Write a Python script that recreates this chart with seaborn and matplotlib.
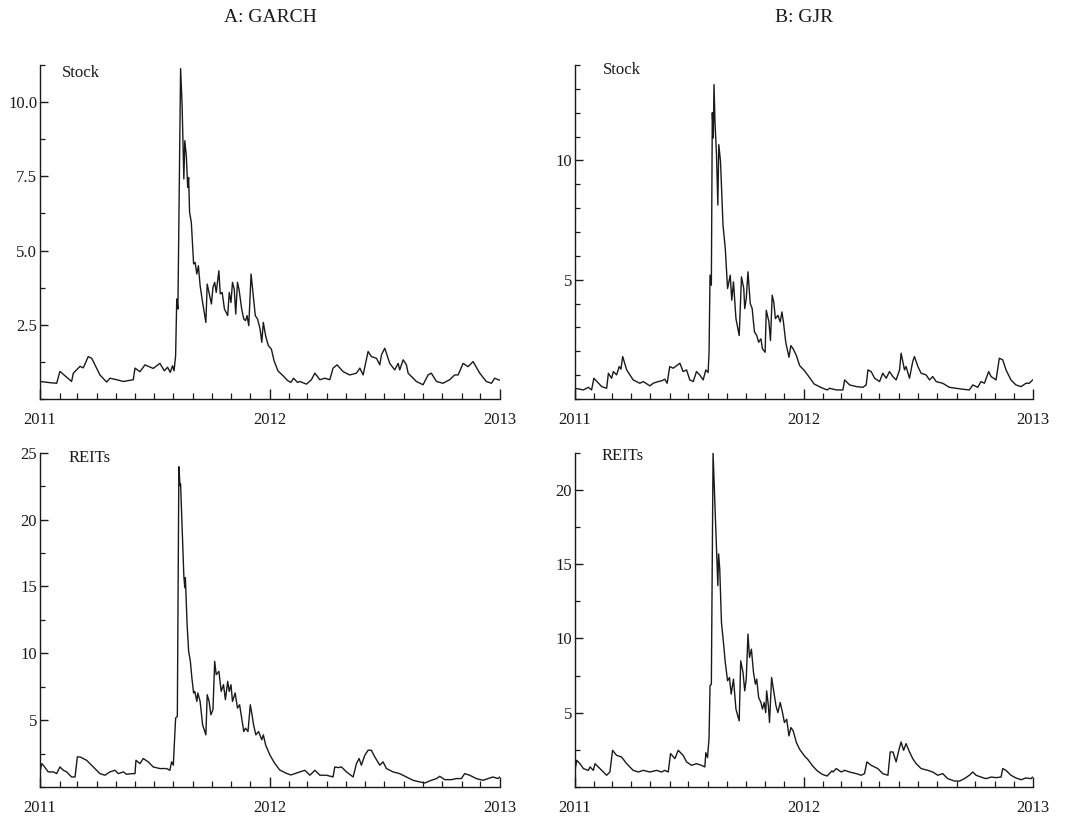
import numpy as np
import pandas as pd
import matplotlib
matplotlib.use("Agg")
import matplotlib.pyplot as plt
import matplotlib.dates as mdates
from matplotlib.ticker import FixedLocator, MultipleLocator
import seaborn as sns

# ---------------- data (time in months since 2011-01-01) -------------
panel_titles = ["A: GARCH", "B: GJR"]
series_names = ["Stock", "REITs"]
year_labels = ["2011", "2012", "2013"]

stock_garch_t = [0.00, 0.52, 0.87, 1.04, 1.65, 1.74, 2.09, 2.26, 2.52, 2.70, 3.13, 3.48, 3.65, 4.00,
                 4.35, 4.87, 4.96, 5.22, 5.48, 5.91, 6.26, 6.49, 6.66, 6.80, 6.92, 7.00, 7.08, 7.14,
                 7.20, 7.34, 7.42, 7.51, 7.56, 7.64, 7.71, 7.76, 7.81, 7.90, 8.02, 8.10, 8.19, 8.27,
                 8.36, 8.49, 8.66, 8.73, 8.86, 8.95, 9.03, 9.12, 9.20, 9.34, 9.41, 9.51, 9.63, 9.80,
                 9.88, 9.97, 10.05, 10.14, 10.22, 10.31, 10.39, 10.53, 10.64, 10.73, 10.81, 10.90,
                 11.02, 11.10, 11.24, 11.36, 11.49, 11.58, 11.66, 11.78, 11.92, 12.08, 12.22, 12.42,
                 12.68, 12.93, 13.10, 13.24, 13.44, 13.57, 13.91, 14.17, 14.35, 14.61, 14.87, 15.13,
                 15.30, 15.51, 15.83, 16.17, 16.52, 16.70, 16.87, 17.13, 17.30, 17.57, 17.74, 17.83,
                 18.00, 18.26, 18.52, 18.70, 18.78, 18.96, 19.13, 19.22, 19.65, 20.00, 20.26, 20.43,
                 20.70, 21.04, 21.39, 21.65, 21.83, 22.09, 22.35, 22.61, 22.96, 23.30, 23.57, 23.74,
                 24.00]
stock_garch_v = [0.59, 0.55, 0.53, 0.93, 0.59, 0.87, 1.10, 1.05, 1.43, 1.37, 0.81, 0.57, 0.70, 0.65,
                 0.59, 0.65, 1.04, 0.92, 1.15, 1.03, 1.20, 0.95, 1.07, 0.90, 1.12, 0.95, 1.46, 3.37,
                 3.03, 11.13, 9.88, 7.41, 8.70, 8.19, 7.13, 7.46, 6.29, 5.95, 4.55, 4.60, 4.21, 4.49,
                 3.82, 3.25, 2.58, 3.87, 3.48, 3.20, 3.76, 3.93, 3.59, 4.32, 3.54, 3.59, 3.03, 2.81,
                 3.59, 3.25, 3.93, 3.70, 2.86, 3.93, 3.70, 3.03, 2.69, 2.64, 2.81, 2.47,
                 4.21, 3.70, 2.81, 2.69, 2.36, 1.91, 2.58, 2.13, 1.80, 1.68, 1.29, 0.95,
                 0.79, 0.62, 0.56, 0.70, 0.56, 0.59, 0.50, 0.65, 0.87, 0.65, 0.70, 0.65,
                 1.04, 1.15, 0.92, 0.81, 0.87, 1.04, 0.81, 1.60, 1.43, 1.37, 1.15, 1.49,
                 1.71, 1.20, 0.98, 1.20, 0.98, 1.32, 1.15, 0.87, 0.59, 0.48, 0.81, 0.87,
                 0.59, 0.53, 0.65, 0.81, 0.81, 1.20, 1.09, 1.26, 0.87, 0.59, 0.53, 0.70,
                 0.63]

stock_gjr_t = [0.00, 0.44, 0.70, 0.87, 0.99, 1.40, 1.66, 1.75, 1.92, 2.01, 2.18, 2.32, 2.41, 2.50,
               2.71, 3.05, 3.40, 3.58, 3.93, 4.10, 4.36, 4.54, 4.71, 4.83, 4.97, 5.15, 5.32, 5.50,
               5.67, 5.85, 6.02, 6.20, 6.37, 6.54, 6.72, 6.86, 6.98, 7.03, 7.08, 7.15, 7.20, 7.25,
               7.29, 7.34, 7.42, 7.49, 7.54, 7.63, 7.76, 7.88, 8.00, 8.14, 8.22, 8.31, 8.44, 8.61,
               8.73, 8.85, 8.90, 8.98, 9.07, 9.19, 9.29, 9.41, 9.53, 9.63, 9.75, 9.83, 9.97, 10.03,
               10.17, 10.25, 10.34, 10.42, 10.51, 10.64, 10.76, 10.85, 10.93, 11.05, 11.22, 11.32,
               11.44, 11.61, 11.78, 12.03, 12.29, 12.54, 12.88, 13.22, 13.35, 13.70, 14.05, 14.14,
               14.40, 14.75, 15.10, 15.27, 15.36, 15.53, 15.71, 15.97, 16.14, 16.32, 16.49, 16.67,
               16.84, 17.02, 17.10, 17.28, 17.36, 17.54, 17.71, 17.80, 17.98, 18.15, 18.41, 18.59,
               18.76, 18.94, 19.28, 19.63, 19.98, 20.33, 20.68, 20.86, 21.12, 21.29, 21.47, 21.69,
               21.82, 22.08, 22.25, 22.43, 22.60, 22.86, 23.12, 23.39, 23.65, 23.82, 24.00]
stock_gjr_v = [0.45, 0.38, 0.49, 0.38, 0.87, 0.52, 0.45, 1.08, 0.87, 1.15, 1.01, 1.36, 1.25, 1.78,
               1.22, 0.80, 0.66, 0.73, 0.55, 0.66, 0.73, 0.76, 0.83, 0.66, 1.36, 1.29, 1.39, 1.50,
               1.15, 1.22, 0.80, 0.73, 1.15, 1.01, 0.80, 1.22, 1.11, 1.96, 5.19, 4.77, 12.00, 10.94,
               13.18, 11.64, 10.24, 8.13, 10.66, 9.96, 7.29, 6.31, 4.63, 5.19, 4.14, 4.91, 3.37, 2.66,
               5.12, 4.63, 3.79, 4.21, 5.33, 4.00, 3.79, 2.81, 2.66, 2.38, 2.52, 2.10, 1.96, 3.72,
               3.23, 2.45, 4.35, 4.07, 3.37, 3.51, 3.23, 3.65, 3.23, 2.38, 1.75, 2.24,
               2.10, 1.82, 1.40, 1.19, 0.91, 0.63, 0.49, 0.38, 0.45, 0.38, 0.38, 0.80,
               0.59, 0.52, 0.49, 0.59, 1.22, 1.15, 0.87, 0.73, 1.08, 0.87, 1.15, 0.94,
               0.80, 1.22, 1.92, 1.22, 1.36, 0.87, 1.57, 1.78, 1.36, 1.08, 1.01, 0.80,
               0.94, 0.73, 0.66, 0.49, 0.45, 0.41, 0.38, 0.59, 0.49, 0.73, 0.66, 1.15,
               0.94, 0.80, 1.71, 1.64, 1.22, 0.80, 0.59, 0.52, 0.66, 0.66, 0.80]

reits_garch_t = [0.00, 0.09, 0.17, 0.43, 0.70, 0.87, 1.04, 1.22, 1.39, 1.65, 1.83, 1.95, 2.09, 2.43,
                 2.78, 3.13, 3.39, 3.65, 3.91, 4.09, 4.35, 4.52, 4.78, 4.96, 5.01, 5.22, 5.39, 5.65,
                 5.91, 6.26, 6.61, 6.78, 6.87, 6.96, 7.00, 7.08, 7.17, 7.25, 7.31, 7.34, 7.42, 7.51,
                 7.56, 7.59, 7.68, 7.76, 7.85, 7.93, 8.02, 8.08, 8.19, 8.24, 8.36, 8.49, 8.66, 8.73,
                 8.83, 8.92, 9.03, 9.12, 9.20, 9.34, 9.46, 9.58, 9.68, 9.80, 9.88, 9.97, 10.05, 10.19,
                 10.31, 10.42, 10.56, 10.64, 10.73, 10.86, 10.98, 11.07, 11.15, 11.27, 11.41, 11.58,
                 11.66, 11.78, 12.00, 12.25, 12.51, 12.85, 13.10, 13.36, 13.57, 13.83, 14.09, 14.35,
                 14.61, 14.96, 15.30, 15.39, 15.57, 15.74, 16.00, 16.35, 16.52, 16.66, 16.78, 16.96,
                 17.13, 17.30, 17.48, 17.74, 17.91, 18.09, 18.43, 18.78, 19.13, 19.48, 19.83, 20.09,
                 20.43, 20.70, 20.87, 21.13, 21.48, 21.74, 22.00, 22.17, 22.43, 22.78, 23.13, 23.39,
                 23.65, 23.91, 24.00]
reits_garch_v = [1.13, 1.75, 1.63, 1.13, 1.13, 1.00, 1.50, 1.25, 1.13, 0.75, 0.75, 2.25, 2.25, 2.00,
                 1.50, 1.00, 0.88, 1.13, 1.25, 1.00, 1.13, 0.95, 1.00, 1.00, 2.00, 1.75, 2.13, 1.88,
                 1.50, 1.38, 1.38, 1.25, 1.88, 1.63, 2.78, 5.15, 5.28, 23.95, 22.53, 22.65, 19.40, 15.78,
                 14.90, 15.65, 12.15, 10.15, 9.40, 8.15, 7.03, 7.15, 6.40, 7.03, 6.40, 4.65, 3.90, 6.90,
                 6.40, 5.40, 5.78, 9.40, 8.40, 8.65, 7.15, 7.65, 6.53, 7.90, 7.15, 7.65, 6.40, 7.03,
                 5.90, 6.15, 4.90, 4.15, 4.40, 4.15, 6.15, 5.40, 4.65, 3.90, 4.15, 3.53,
                 3.90, 3.15, 2.40, 1.78, 1.28, 1.03, 0.90, 1.03, 1.13, 1.25, 0.88, 1.25,
                 0.88, 0.88, 0.75, 1.50, 1.45, 1.50, 1.13, 0.75, 1.75, 2.13, 1.63, 2.38,
                 2.75, 2.75, 2.25, 1.63, 1.88, 1.38, 1.13, 1.00, 0.75, 0.50, 0.38, 0.30,
                 0.50, 0.63, 0.80, 0.55, 0.55, 0.63, 0.63, 1.00, 0.88, 0.63, 0.50, 0.63,
                 0.75, 0.63, 0.75]

reits_gjr_t = [0.00, 0.09, 0.26, 0.44, 0.70, 0.79, 0.96, 1.05, 1.31, 1.66, 1.83, 1.97, 2.18, 2.44,
               2.71, 3.05, 3.32, 3.58, 3.93, 4.28, 4.54, 4.71, 4.89, 5.01, 5.24, 5.41, 5.67, 5.85,
               6.11, 6.37, 6.63, 6.81, 6.86, 6.95, 7.03, 7.08, 7.15, 7.24, 7.32, 7.41, 7.49, 7.53,
               7.59, 7.68, 7.80, 7.88, 8.00, 8.10, 8.19, 8.31, 8.44, 8.61, 8.69, 8.81, 8.90, 8.98,
               9.07, 9.15, 9.25, 9.36, 9.46, 9.53, 9.63, 9.75, 9.83, 9.92, 10.00, 10.05, 10.14, 10.20,
               10.31, 10.42, 10.54, 10.64, 10.76, 10.88, 10.98, 11.10, 11.22, 11.32, 11.44, 11.61,
               11.78, 12.03, 12.20, 12.46, 12.71, 12.97, 13.22, 13.47, 13.53, 13.70, 13.96, 14.14,
               14.40, 14.75, 15.01, 15.18, 15.31, 15.53, 15.71, 15.88, 16.14, 16.41, 16.53, 16.67,
               16.84, 16.98, 17.10, 17.23, 17.36, 17.54, 17.71, 17.89, 18.15, 18.50, 18.76, 19.02,
               19.28, 19.55, 19.90, 20.16, 20.42, 20.68, 20.86, 21.03, 21.29, 21.55, 21.82, 22.08,
               22.34, 22.43, 22.60, 22.86, 23.12, 23.39, 23.65, 23.91, 24.00]
reits_gjr_v = [1.12, 1.80, 1.57, 1.24, 1.12, 1.35, 1.12, 1.57, 1.24, 0.79, 1.01, 2.47, 2.13, 2.02,
               1.57, 1.12, 1.01, 1.12, 1.01, 1.12, 1.01, 1.12, 1.01, 2.25, 1.91, 2.47, 2.13, 1.69,
               1.46, 1.57, 1.46, 1.35, 2.31, 1.98, 3.33, 6.81, 6.92, 22.49, 19.62, 16.25, 13.55, 15.69,
               14.67, 11.08, 9.51, 8.38, 7.15, 7.37, 6.25, 7.26, 5.24, 4.45, 8.49, 7.71, 6.47, 7.26,
               10.29, 8.72, 9.28, 7.71, 6.92, 7.26, 6.02, 5.69, 5.24, 5.69, 5.01, 6.47, 5.46, 4.34,
               7.37, 6.47, 5.46, 5.01, 5.69, 5.01, 4.34, 4.56, 3.44, 4.00, 3.78, 2.99,
               2.54, 2.09, 1.87, 1.42, 1.08, 0.85, 0.74, 1.08, 1.01, 1.24, 1.01, 1.12,
               1.01, 0.90, 0.79, 0.90, 1.69, 1.46, 1.35, 1.24, 0.90, 0.79, 2.36, 2.36,
               1.69, 2.47, 3.03, 2.47, 2.92, 2.36, 1.91, 1.57, 1.24, 1.12, 1.01, 0.79,
               0.90, 0.56, 0.40, 0.40, 0.56, 0.79, 1.01, 0.79, 0.67, 0.56, 0.67, 0.63,
               0.67, 1.24, 1.12, 0.79, 0.61, 0.49, 0.61, 0.56, 0.67]

# ---------------- figure ----------------
sns.set_theme(style="ticks")
plt.rcParams["font.family"] = ["Liberation Serif", "DejaVu Serif"]
plt.rcParams["mathtext.fontset"] = "stix"

fig = plt.figure(figsize=(10.72, 8.16), dpi=100)
W, H = 1072, 816


def box(l, t, r, b):
    return [l / W, 1 - b / H, (r - l) / W, (b - t) / H]


panels = [
    dict(rect=box(40, 65, 500, 399), t=stock_garch_t, v=stock_garch_v, ymax=11.25,
         major=[2.5, 5.0, 7.5, 10.0], minor=1.25, fmt="{:.1f}", label=series_names[0],
         lx=0.048, ly=0.975),
    dict(rect=box(575, 65, 1033, 399), t=stock_gjr_t, v=stock_gjr_v, ymax=14.0,
         major=[5, 10], minor=1.0, fmt="{:d}", label=series_names[0],
         lx=0.061, ly=0.985),
    dict(rect=box(40, 452.7, 500, 787), t=reits_garch_t, v=reits_garch_v, ymax=25.0,
         major=[5, 10, 15, 20, 25], minor=2.5, fmt="{:d}", label=series_names[1],
         lx=0.061, ly=0.985),
    dict(rect=box(575, 452.7, 1033, 787), t=reits_gjr_t, v=reits_gjr_v, ymax=22.5,
         major=[5, 10, 15, 20], minor=2.5, fmt="{:d}", label=series_names[1],
         lx=0.057, ly=0.99),
]

base = pd.Timestamp("2011-01-01")
x0, x1 = pd.Timestamp("2011-01-01"), pd.Timestamp("2013-01-01")
year_ticks = [pd.Timestamp(f"{y}-01-01") for y in year_labels]
ink = "#1a1a1a"

for p in panels:
    ax = fig.add_axes(p["rect"])
    dates = base + pd.to_timedelta(np.array(p["t"]) * 30.4375, unit="D")
    df = pd.DataFrame({"date": dates, "value": p["v"]})
    sns.lineplot(data=df, x="date", y="value", ax=ax, color=ink, linewidth=1.0,
                 estimator=None, sort=False)
    ax.set_xlim(x0, x1)
    ax.set_ylim(0, p["ymax"])
    ax.set_xlabel("")
    ax.set_ylabel("")
    for s in ["top", "right"]:
        ax.spines[s].set_visible(False)
    for s in ["left", "bottom"]:
        ax.spines[s].set_color(ink)
        ax.spines[s].set_linewidth(1.0)
    # x ticks
    ax.xaxis.set_major_locator(FixedLocator(mdates.date2num(year_ticks)))
    ax.set_xticklabels(year_labels)
    ax.xaxis.set_minor_locator(mdates.MonthLocator())
    ax.tick_params(axis="x", which="major", direction="in", length=7, width=1.0,
                   color=ink, pad=9, labelsize=12, labelcolor=ink)
    ax.tick_params(axis="x", which="minor", direction="in", length=4, width=0.9, color=ink)
    # y ticks
    ax.yaxis.set_major_locator(FixedLocator(p["major"]))
    ax.set_yticklabels([p["fmt"].format(m) for m in p["major"]])
    ax.yaxis.set_minor_locator(MultipleLocator(p["minor"]))
    ax.tick_params(axis="y", which="major", direction="in", length=5.5, width=1.0,
                   color=ink, pad=2, labelsize=12, labelcolor=ink)
    ax.tick_params(axis="y", which="minor", direction="in", length=3.5, width=0.9, color=ink)
    ax.text(p["lx"], p["ly"], p["label"], transform=ax.transAxes, ha="left", va="center",
            fontsize=12, color=ink)

fig.text(270 / W, 1 - 18 / H, panel_titles[0], ha="center", va="center", fontsize=14, color=ink)
fig.text(804 / W, 1 - 18 / H, panel_titles[1], ha="center", va="center", fontsize=14, color=ink)

fig.savefig("out.png", dpi=100, facecolor="white")
